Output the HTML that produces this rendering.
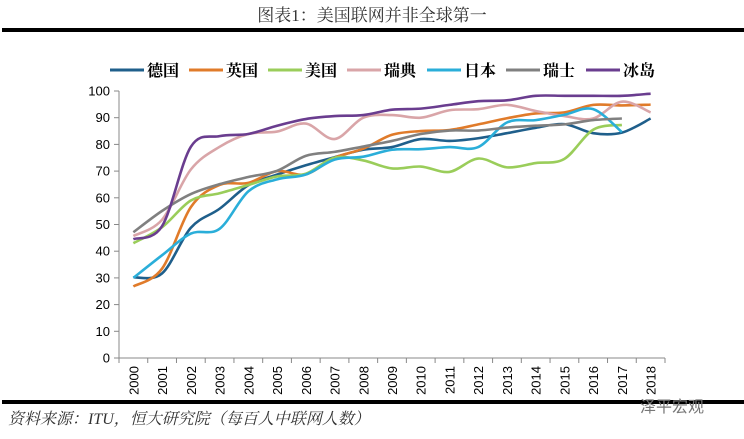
<!DOCTYPE html>
<html><head><meta charset="utf-8"><style>
body{margin:0;width:744px;height:434px;background:#fff;overflow:hidden;font-family:"Liberation Sans","Noto Sans CJK SC",sans-serif;}
</style></head><body>
<svg id="c" width="744" height="434" xmlns="http://www.w3.org/2000/svg" font-family="Liberation Sans, Noto Sans CJK SC, sans-serif">
<text x="372" y="21" text-anchor="middle" font-size="17" fill="#333" style="font-family:'Liberation Serif','Noto Serif CJK SC',serif">图表1：美国联网并非全球第一</text>
<rect x="2" y="28" width="742" height="4" fill="#000"/>
<rect x="2" y="400" width="742" height="4" fill="#000"/>
<text x="8" y="424" font-size="16" font-style="italic" fill="#333" style="font-family:'Liberation Serif','Noto Serif CJK SC',serif">资料来源：ITU，恒大研究院（每百人中联网人数）</text>
<text x="672" y="412" text-anchor="middle" font-size="16" fill="#777">泽平宏观</text>
<g id="legend"></g>
<g id="axes"></g>
<g id="lines"></g>
</svg>
<script>
const years=["2000","2001","2002","2003","2004","2005","2006","2007","2008","2009","2010","2011","2012","2013","2014","2015","2016","2017","2018"];
const yTicks=[0,10,20,30,40,50,60,70,80,90,100];
const seriesNames=["德国","英国","美国","瑞典","日本","瑞士","冰岛"];
const seriesColors=["#1f5f8b","#e07b2a","#9acd5a","#d9a5a8","#2aaed9","#808080","#6a3d8f"];
const germany=[30.2,31.7,48.8,55.9,64.7,68.7,72.2,75.2,78,79,82,81.3,82.3,84.2,86.2,87.6,84.2,84.4,89.7];
const uk=[26.8,33.5,56.5,64.8,65.6,70,68.8,75,78.4,83.6,85,85.4,87.5,89.8,91.6,92,94.8,94.6,94.9];
const us=[43,49,59,61.7,64.8,68,69,75,74,71,71.7,69.7,74.7,71.4,73,74.6,85.5,87.3,null];
const sweden=[45.7,51.8,70.6,79.1,83.9,84.8,87.8,82,90,91,90,92.8,93.2,94.8,92.5,90.6,89.7,96,92];
const japan=[30,38.5,46.6,48.4,62.4,66.9,68.7,74.3,75.4,78,78.2,79,79,88.2,89.1,91.1,93.2,84.6,null];
const swiss=[47.1,55.1,61.4,65.1,67.8,70.1,75.7,77.2,79.2,81.3,83.9,85.2,85.2,86.3,87,87.5,89.1,89.7,null];
const iceland=[44.5,49.4,79.1,83.1,83.9,87,89.5,90.6,91,93,93.4,94.8,96.2,96.5,98.2,98.2,98.2,98.2,99];
const allSeries=[germany,uk,us,sweden,japan,swiss,iceland];
const NS="http://www.w3.org/2000/svg";
const L=119,R=665,T=91,B=358;
const step=(R-L)/years.length;
const x=i=>L+step*(i+0.5);
const y=v=>B-(v/100)*(B-T);
function mk(tag,attrs,parent){const e=document.createElementNS(NS,tag);for(const k in attrs)e.setAttribute(k,attrs[k]);parent.appendChild(e);return e;}
const axes=document.getElementById('axes');
let a=mk('line',{x1:L,y1:T,x2:L,y2:B,stroke:'#888'},axes);


a=mk('line',{x1:L,y1:B,x2:R,y2:B,stroke:'#888'},axes);


yTicks.forEach(t=>{
  mk('line',{x1:L-5,y1:y(t),x2:L,y2:y(t),stroke:'#888'},axes);
  const tx=mk('text',{x:L-9,y:y(t)+4.5,'text-anchor':'end','font-size':13,fill:'#000'},axes);
  tx.textContent=t;
  
  
});
for(let i=0;i<=years.length;i++) mk('line',{x1:L+step*i,y1:B,x2:L+step*i,y2:B+5,stroke:'#888'},axes);
years.forEach((yr,i)=>{
  const tx=mk('text',{x:0,y:0,'text-anchor':'end','font-size':13,fill:'#000',transform:`translate(${x(i)+5},${B+8}) rotate(-90)`},axes);
  tx.textContent=yr;
  
  
});
const lines=document.getElementById('lines');
allSeries.forEach((s,si)=>{
  const pts=[];s.forEach((v,i)=>{if(v!=null)pts.push([x(i),y(v)]);});
  let d=`M${pts[0][0]},${pts[0][1]}`;
  for(let i=0;i<pts.length-1;i++){
    const p0=pts[i-1]||pts[i],p1=pts[i],p2=pts[i+1],p3=pts[i+2]||p2;
    const c1=[p1[0]+(p2[0]-p0[0])/6,p1[1]+(p2[1]-p0[1])/6];
    const c2=[p2[0]-(p3[0]-p1[0])/6,p2[1]-(p3[1]-p1[1])/6];
    d+=` C${c1[0]},${c1[1]} ${c2[0]},${c2[1]} ${p2[0]},${p2[1]}`;
  }
  const p=mk('path',{d:d,fill:'none',stroke:seriesColors[si],'stroke-width':2.6},lines);
  
  
});
const lg=document.getElementById('legend');
const lx=[110,189,268,347,427,506,586];
seriesNames.forEach((n,i)=>{
  const g=mk('g',{},lg);
  
  
  mk('line',{x1:lx[i],y1:70,x2:lx[i]+34,y2:70,stroke:seriesColors[i],'stroke-width':3},g);
  const t=mk('text',{x:lx[i]+37,y:76,'font-size':16,fill:'#000','font-weight':'bold',style:"font-family:'Liberation Serif','Noto Serif CJK SC',serif"},g);
  t.textContent=n;
});
</script>
</body></html>
